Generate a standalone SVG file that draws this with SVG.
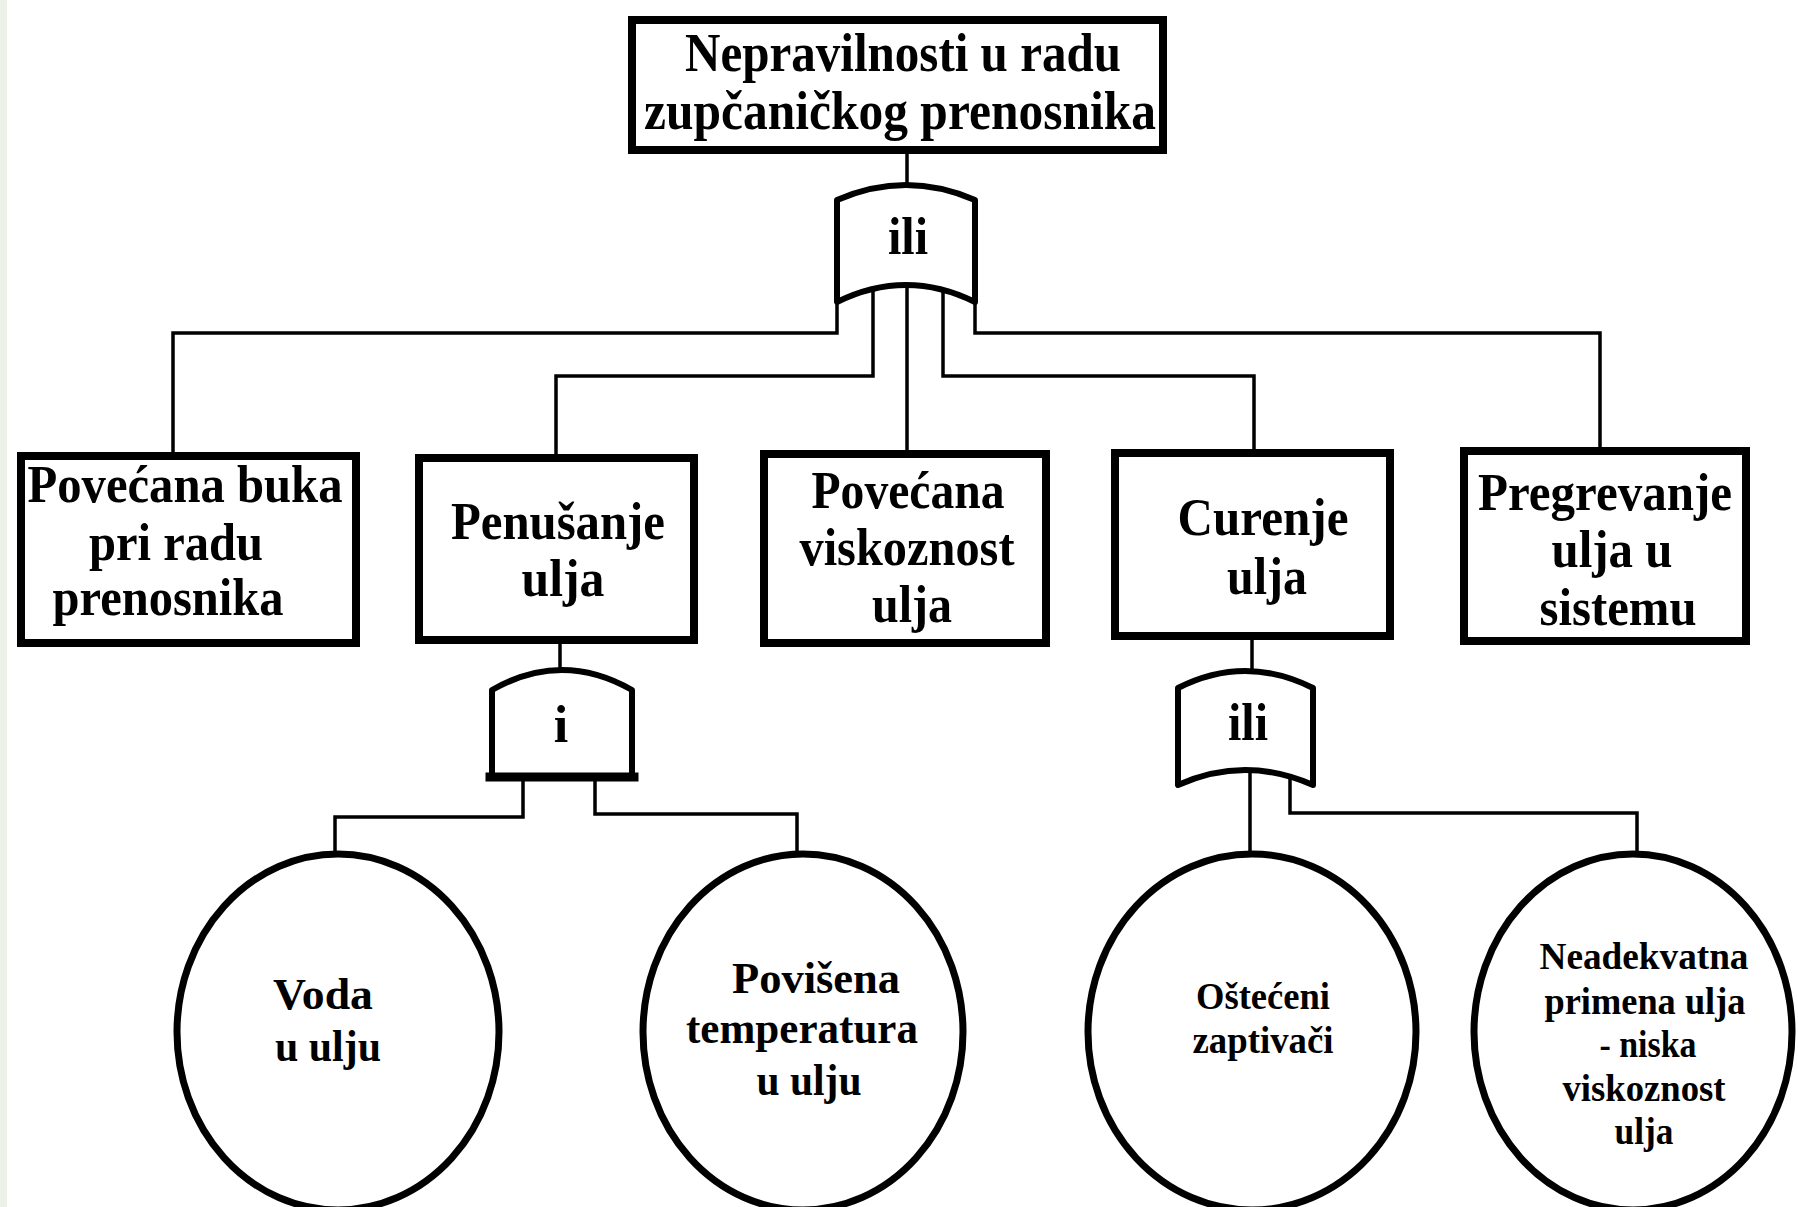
<svg xmlns="http://www.w3.org/2000/svg" width="1798" height="1207" viewBox="0 0 1798 1207">
<style>
.box{fill:#fff;stroke:#000;stroke-width:8}
.gate{fill:#fff;stroke:#000;stroke-width:6;stroke-linejoin:round}
.ev{fill:#fff;stroke:#000;stroke-width:7}
.con{fill:none;stroke:#000;stroke-width:3.5}
text{font-family:"Liberation Serif","Times New Roman",serif;font-weight:bold;fill:#000;text-anchor:middle}
.t52{font-size:54px}
.t50{font-size:52px}
.t43{font-size:44px}
.t36{font-size:37px}
</style>
<rect x="0" y="0" width="1798" height="1207" fill="#fff"/>
<rect x="0" y="0" width="7" height="1207" fill="#e6eadc" opacity="0.7"/>
<g id="connectors">
<path class="con" d="M907 154 V186"/>
<path class="con" d="M837 300 V333 H173 V452"/>
<path class="con" d="M873 280 V376 H556 V454"/>
<path class="con" d="M907 280 V454"/>
<path class="con" d="M943 280 V376 H1254 V449"/>
<path class="con" d="M975 300 V333 H1600 V447"/>
<path class="con" d="M560 644 V670"/>
<path class="con" d="M523 775 V817 H335 V854"/>
<path class="con" d="M595 775 V814 H797 V854"/>
<path class="con" d="M1252 640 V671"/>
<path class="con" d="M1250 765 V854"/>
<path class="con" d="M1290 765 V813 H1637 V854"/>
</g>
<g id="top">
<rect class="box" x="632" y="20" width="531" height="130"/>
<text class="t52" x="903" y="71" textLength="436" lengthAdjust="spacingAndGlyphs">Nepravilnosti u radu</text>
<text class="t52" x="900" y="129" textLength="512" lengthAdjust="spacingAndGlyphs">zupčaničkog prenosnika</text>
</g>
<g id="gate-or-top">
<path class="gate" d="M837 302 V200 Q906 170 975 200 V302 Q906 268 837 302 Z"/>
<text class="t50" x="908" y="254" textLength="40" lengthAdjust="spacingAndGlyphs">ili</text>
</g>
<g id="n-buka">
<rect class="box" x="21" y="456" width="335" height="187"/>
<text class="t50" x="185" y="502" textLength="315" lengthAdjust="spacingAndGlyphs">Povećana buka</text>
<text class="t50" x="176" y="560" textLength="174" lengthAdjust="spacingAndGlyphs">pri radu</text>
<text class="t50" x="168" y="615" textLength="231" lengthAdjust="spacingAndGlyphs">prenosnika</text>
</g>
<g id="n-penusanje">
<rect class="box" x="419" y="458" width="275" height="182"/>
<text class="t50" x="558" y="539" textLength="214" lengthAdjust="spacingAndGlyphs">Penušanje</text>
<text class="t50" x="563" y="596" textLength="83" lengthAdjust="spacingAndGlyphs">ulja</text>
</g>
<g id="n-viskoznost">
<rect class="box" x="764" y="454" width="282" height="189"/>
<text class="t50" x="908" y="508" textLength="193" lengthAdjust="spacingAndGlyphs">Povećana</text>
<text class="t50" x="907" y="565" textLength="215" lengthAdjust="spacingAndGlyphs">viskoznost</text>
<text class="t50" x="912" y="622" textLength="80" lengthAdjust="spacingAndGlyphs">ulja</text>
</g>
<g id="n-curenje">
<rect class="box" x="1115" y="453" width="275" height="183"/>
<text class="t50" x="1263" y="535" textLength="171" lengthAdjust="spacingAndGlyphs">Curenje</text>
<text class="t50" x="1267" y="594" textLength="80" lengthAdjust="spacingAndGlyphs">ulja</text>
</g>
<g id="n-pregrevanje">
<rect class="box" x="1464" y="451" width="282" height="190"/>
<text class="t50" x="1605" y="510" textLength="254" lengthAdjust="spacingAndGlyphs">Pregrevanje</text>
<text class="t50" x="1612" y="567" textLength="121" lengthAdjust="spacingAndGlyphs">ulja u</text>
<text class="t50" x="1618" y="625" textLength="157" lengthAdjust="spacingAndGlyphs">sistemu</text>
</g>
<g id="gate-and">
<path class="gate" d="M492 777 V690 Q562 650 632 690 V777 Z"/>
<path d="M490 777 H634" stroke="#000" stroke-width="9" stroke-linecap="square"/>
<text class="t50" x="561" y="742">i</text>
</g>
<g id="gate-or-right">
<path class="gate" d="M1178 785 V688 Q1245 654 1313 688 V785 Q1245 755 1178 785 Z"/>
<text class="t50" x="1248" y="740" textLength="40" lengthAdjust="spacingAndGlyphs">ili</text>
</g>
<g id="e-voda">
<ellipse class="ev" cx="338" cy="1032" rx="161" ry="178"/>
<text class="t43" x="323" y="1009" textLength="100" lengthAdjust="spacingAndGlyphs">Voda</text>
<text class="t43" x="328" y="1061" textLength="106" lengthAdjust="spacingAndGlyphs">u ulju</text>
</g>
<g id="e-temperatura">
<ellipse class="ev" cx="803" cy="1032" rx="160" ry="178"/>
<text class="t43" x="816" y="993" textLength="168" lengthAdjust="spacingAndGlyphs">Povišena</text>
<text class="t43" x="802" y="1043" textLength="232" lengthAdjust="spacingAndGlyphs">temperatura</text>
<text class="t43" x="809" y="1095" textLength="105" lengthAdjust="spacingAndGlyphs">u ulju</text>
</g>
<g id="e-zaptivaci">
<ellipse class="ev" cx="1252" cy="1032" rx="164" ry="178"/>
<text class="t36" x="1263" y="1009" textLength="134" lengthAdjust="spacingAndGlyphs">Oštećeni</text>
<text class="t36" x="1263" y="1053" textLength="141" lengthAdjust="spacingAndGlyphs">zaptivači</text>
</g>
<g id="e-neadekvatna">
<ellipse class="ev" cx="1633" cy="1032" rx="159" ry="178"/>
<text class="t36" x="1644" y="969" textLength="209" lengthAdjust="spacingAndGlyphs">Neadekvatna</text>
<text class="t36" x="1645" y="1014" textLength="201" lengthAdjust="spacingAndGlyphs">primena ulja</text>
<text class="t36" x="1648" y="1057" textLength="97" lengthAdjust="spacingAndGlyphs">- niska</text>
<text class="t36" x="1644" y="1101" textLength="163" lengthAdjust="spacingAndGlyphs">viskoznost</text>
<text class="t36" x="1644" y="1144" textLength="59" lengthAdjust="spacingAndGlyphs">ulja</text>
</g>
</svg>
